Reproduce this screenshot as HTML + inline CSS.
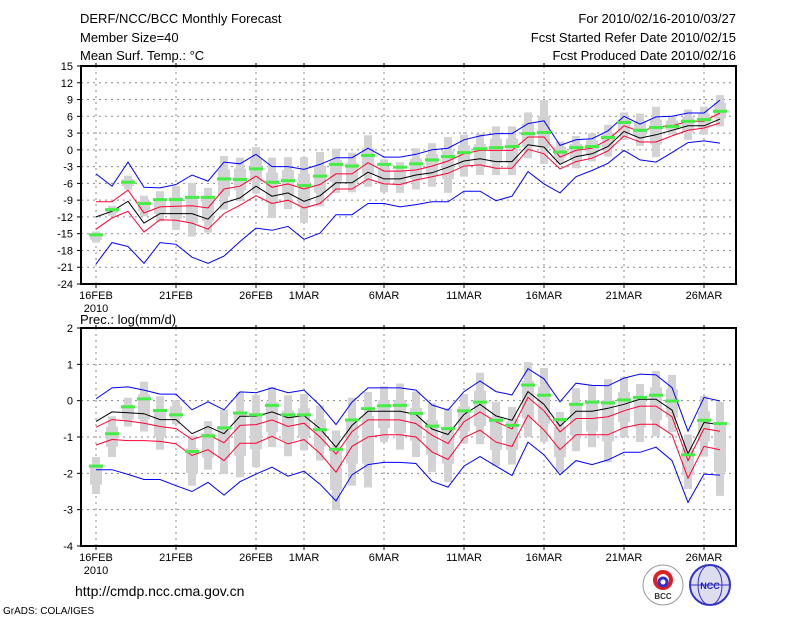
<!DOCTYPE html>
<html><head><meta charset="utf-8"><style>
body{margin:0;background:#fff;width:800px;height:618px;overflow:hidden}
svg{display:block;font-family:"Liberation Sans",sans-serif}
</style></head><body>
<svg id="c" width="800" height="618" viewBox="0 0 800 618">
<text x="80" y="23" font-size="13">DERF/NCC/BCC Monthly Forecast</text>
<text x="80" y="42" font-size="13">Member Size=40</text>
<text x="80" y="60" font-size="13">Mean Surf. Temp.: °C</text>
<text x="736" y="23" font-size="13" text-anchor="end">For 2010/02/16-2010/03/27</text>
<text x="736" y="42" font-size="13" text-anchor="end">Fcst Started Refer Date 2010/02/15</text>
<text x="736" y="60" font-size="13" text-anchor="end">Fcst Produced Date 2010/02/16</text>
<text x="80" y="324" font-size="13">Prec.: log(mm/d)</text>
<text x="75" y="596" font-size="14">http://cmdp.ncc.cma.gov.cn</text>
<text x="3" y="614" font-size="10">GrADS: COLA/IGES</text>
<g><circle cx="663" cy="585" r="20" fill="#fff" stroke="#999"/><circle cx="663" cy="580" r="8" fill="none" stroke="#d22" stroke-width="4"/><circle cx="663" cy="582" r="4" fill="none" stroke="#33c" stroke-width="3"/><text x="663" y="599" font-size="8" font-weight="bold" text-anchor="middle" fill="#333">BCC</text></g>
<g><circle cx="710" cy="585" r="20" fill="#dde" stroke="#33c" stroke-width="2"/><ellipse cx="710" cy="585" rx="12" ry="20" fill="none" stroke="#33c"/><line x1="690" y1="585" x2="730" y2="585" stroke="#33c"/><text x="710" y="589" font-size="9" font-weight="bold" text-anchor="middle" fill="#22b">NCC</text></g>
</svg>
<script>
// ---- data (day index 0 = 16 Feb 2010) ----
const dateLabels = ["16FEB","21FEB","26FEB","1MAR","6MAR","11MAR","16MAR","21MAR","26MAR"];
const dateLabelDays = [0,5,10,13,18,23,28,33,38];
const tTicks = [15,12,9,6,3,0,-3,-6,-9,-12,-15,-18,-21,-24];
const pTicks = [2,1,0,-1,-2,-3,-4];
const tMax = [-4.3,-6.5,-2.2,-6.7,-6.8,-6.2,-4.5,-5.6,-2.2,-2.5,-0.8,-3,-3,-3.5,-2.6,-1.4,-1.4,0.3,-1.3,-1.3,-0.8,0,0.3,1.8,2.5,2.9,2.9,4.7,5.2,0.8,1.8,2,3.4,6,4.6,5.9,6,6.6,6.6,8.9];
const tUp = [-9.3,-9.3,-7.2,-11.3,-10.2,-10.1,-10,-10.4,-7,-6.5,-4.7,-6.7,-6.1,-7,-6.2,-4.3,-4.3,-2.3,-3.8,-3.8,-3.6,-2.9,-2,-0.7,-0.1,-0.1,-0.1,2.3,2.3,-1.3,-0.1,0.3,1.8,4.3,3.3,4.1,4.3,5.1,5.1,6.6];
const tMean = [-12,-11,-9.2,-13.1,-11.4,-11.4,-11.4,-12.4,-9.5,-8.6,-6.5,-8.3,-7.7,-9.2,-8.2,-5.9,-5.9,-4,-5.2,-5.2,-4.5,-4.1,-3.1,-2,-1.6,-2.1,-2.1,0.9,0.5,-2.6,-1.2,-0.7,0.6,3.3,2.1,2.7,3.5,4.3,4.3,5.5];
const tLo = [-14.2,-12.2,-11,-14.7,-12.5,-12.6,-13.1,-14.2,-11.4,-9.9,-8.2,-9.6,-9,-10.4,-9.6,-7,-7,-5.2,-6.1,-6.2,-5.4,-4.8,-4.2,-2.9,-2.7,-3.3,-3.3,0.1,-0.7,-3.4,-2.1,-1.5,-0.2,2.5,1.4,1.4,2.5,3.5,3.9,4.8];
const tMin = [-20.4,-16.6,-17.3,-20.3,-16.6,-16.9,-19.2,-20.3,-19,-16.4,-14,-14.4,-13.7,-16,-14.9,-11.6,-11.6,-9.6,-9.6,-10.2,-9.8,-9.3,-9.3,-7.4,-7.4,-9.1,-8.3,-3.9,-6.1,-7.7,-4.8,-3.7,-2.4,-0.1,-1.8,-2.2,-0.5,1.3,1.6,1.2];
const tObs = [-15.2,-10.7,-5.8,-9.6,-8.9,-8.9,-8.5,-8.5,-5.2,-5.3,-3.4,-5.8,-5.5,-6.4,-4.7,-2.6,-2.9,-1,-2.6,-3.1,-2.5,-1.8,-1.2,-0.5,0.2,0.4,0.6,2.9,3.1,-0.4,0.4,0.6,2.2,4.9,3.5,4,4.2,5.1,5.4,6.9];
const tBoxHi = [-14.6,-10,-4.6,-8.2,-7.4,-6.5,-5.9,-6.8,-1.1,-1.4,0.5,-1.4,-1.3,-1.3,-0.4,0.2,-0.5,2.6,-1.7,-2.2,0.3,1.2,2.3,2.7,2.9,4.2,4.2,6.7,8.9,1.5,2.5,3,4.5,6.7,6.5,7.7,6.1,7.2,7.7,9.8];
const tBoxLo = [-16.6,-11.8,-7.1,-11.9,-12.8,-14.3,-15.5,-14.8,-10.7,-9.2,-7.8,-12.2,-10.6,-13.1,-10.1,-7.7,-7.6,-6.6,-7.6,-7.7,-7.1,-6.6,-7.7,-4.8,-4.5,-4.5,-4.5,-1.5,-2.5,-2.4,-3.3,-2.1,-1.2,1.8,0.7,-1.3,2.7,1.8,2.7,4.2];
const pMax = [0.05,0.35,0.38,0.29,0.18,0.18,-0.25,-0.03,-0.25,0.24,0.22,0.35,0.22,0.29,-0.13,-0.66,-0.04,0.35,0.35,0.35,0.29,-0.12,-0.26,0.25,0.54,0.25,0.16,0.88,0.6,-0.03,0.48,0.42,0.41,0.62,0.73,0.71,0.36,-0.84,0.09,-0.01];
const pUp = [-0.73,-0.52,-0.56,-0.62,-0.71,-0.77,-1.07,-0.93,-1.16,-0.68,-0.66,-0.53,-0.71,-0.62,-1,-1.47,-0.85,-0.53,-0.53,-0.53,-0.63,-0.95,-1.18,-0.58,-0.31,-0.58,-0.78,0.09,-0.28,-0.86,-0.49,-0.49,-0.44,-0.28,-0.15,-0.15,-0.44,-1.65,-0.77,-0.84];
const pMean = [-0.57,-0.31,-0.33,-0.36,-0.52,-0.52,-0.91,-0.71,-0.91,-0.43,-0.43,-0.31,-0.47,-0.41,-0.77,-1.28,-0.68,-0.29,-0.29,-0.29,-0.38,-0.78,-0.93,-0.38,-0.1,-0.42,-0.54,0.25,-0.1,-0.7,-0.29,-0.29,-0.21,-0.1,0.04,0.04,-0.26,-1.46,-0.6,-0.66];
const pLo = [-1.22,-1.07,-1.1,-1.1,-1.12,-1.19,-1.51,-1.35,-1.65,-1.17,-1.17,-0.98,-1.19,-1.07,-1.45,-1.97,-1.26,-1,-0.94,-0.94,-1,-1.41,-1.62,-1.02,-0.81,-1.14,-1.26,-0.4,-0.81,-1.35,-0.94,-0.94,-0.94,-0.74,-0.65,-0.65,-0.94,-2.13,-1.26,-1.35];
const pMin = [-1.9,-1.9,-2.03,-2.17,-2.17,-2.34,-2.5,-2.25,-2.6,-2.23,-2.02,-1.83,-2.08,-1.94,-2.3,-2.76,-2.04,-1.76,-1.7,-1.7,-1.73,-2.22,-2.38,-1.8,-1.54,-1.8,-2.06,-1.14,-1.49,-2.04,-1.65,-1.76,-1.63,-1.42,-1.42,-1.28,-1.65,-2.8,-2.02,-2.05];
const pObs = [-1.8,-0.91,-0.17,0.05,-0.27,-0.39,-1.4,-0.97,-0.75,-0.34,-0.39,-0.13,-0.39,-0.39,-0.8,-1.34,-0.53,-0.22,-0.14,-0.13,-0.35,-0.7,-0.77,-0.28,-0.04,-0.54,-0.68,0.43,0.15,-0.52,-0.1,-0.04,-0.06,0.02,0.09,0.15,-0.01,-1.49,-0.54,-0.63];
const pBoxHi = [-1.55,-0.43,0.08,0.52,0.12,0.01,-0.96,-0.56,-0.25,0.24,0.15,0.38,0.15,0.18,-0.13,-0.82,0.08,0.24,0.4,0.47,0.25,-0.07,-0.21,0.18,0.77,-0.03,-0.17,1.06,0.9,-0.31,0.34,0.43,0.59,0.65,0.46,0.82,0.71,-0.93,0.13,-0.03];
const pBoxLo = [-2.57,-1.55,-0.71,-0.85,-1.35,-0.65,-2.34,-1.9,-2.02,-2.11,-1.83,-1.28,-1.53,-1.37,-1.65,-3.01,-2.34,-2.39,-1.14,-1.35,-1.55,-1.96,-2.24,-1.18,-1.2,-1.8,-1.76,-1,-1.14,-1.97,-1.39,-1.28,-1.69,-1,-1.14,-0.98,-0.86,-2.43,-1.54,-2.62];

const svg = document.getElementById('c');
const NS = 'http://www.w3.org/2000/svg';
function mk(tag, attrs, parent){
  const e = document.createElementNS(NS, tag);
  for (const k in attrs) e.setAttribute(k, attrs[k]);
  (parent||svg).appendChild(e);
  return e;
}
const X0 = 81, X1 = 736;
function xDay(d){ return 96 + 16*d; }

function panel(name, top, bot, vmax, vmin, ticks, mx, up, mean, lo, mn, obs, bhi, blo){
  const y = v => top + (vmax - v) * (bot - top) / (vmax - vmin);
  const g = mk('g', {});
  
  
  // grid
  ticks.forEach(t => {
    if (t===vmax || t===vmin) return;
    const l = mk('line', {x1:X0, x2:X1, y1:y(t), y2:y(t), stroke:'#888', 'stroke-dasharray':'2,4', 'stroke-width':1}, g);
    
    
  });
  dateLabelDays.forEach(d => {
    const l = mk('line', {x1:xDay(d), x2:xDay(d), y1:top, y2:bot, stroke:'#888', 'stroke-dasharray':'2,4', 'stroke-width':1}, g);
    
    
  });
  // boxes
  for (let i=0;i<mx.length;i++){
    const x = xDay(i);
    const r1 = mk('rect', {x:x-4, y:y(bhi[i]), width:8, height:Math.max(1,y(blo[i])-y(bhi[i])), fill:'#d3d3d6'}, g);
    
    
    const q = (bhi[i]-blo[i])*0.25;
    const r2 = mk('rect', {x:x-6, y:y(bhi[i]-q), width:12, height:Math.max(1,y(blo[i]+q)-y(bhi[i]-q)), fill:'#d3d3d6'}, g);
    
    
  }
  const series = [[mx,'#0000ff','max-line'],[mn,'#0000ff','min-line'],[up,'#ff0033','upper-line'],[lo,'#ff0033','lower-line'],[mean,'#000000','mean-line']];
  series.forEach(s => {
    const pts = s[0].map((v,i)=> xDay(i)+','+y(v).toFixed(1)).join(' ');
    const p = mk('polyline', {points:pts, fill:'none', stroke:s[1], 'stroke-width':1}, g);
    
    
  });
  for (let i=0;i<obs.length;i++){
    const r = mk('rect', {x:xDay(i)-7, y:y(obs[i])-1.5, width:14, height:3, fill:'#44ee44'}, g);
    
    
  }
  // frame
  const fr = mk('rect', {x:X0, y:top, width:X1-X0, height:bot-top, fill:'none', stroke:'#000', 'stroke-width':2}, g);
  
  
  ticks.forEach(t => {
    mk('line', {x1:X0-4, x2:X0, y1:y(t), y2:y(t), stroke:'#000'}, g);
    const tx = mk('text', {x:73, y:y(t)+4, 'font-size':11, 'text-anchor':'end'}, g);
    tx.textContent = String(t);
    
    
  });
  dateLabelDays.forEach((d,k) => {
    mk('line', {x1:xDay(d), x2:xDay(d), y1:bot, y2:bot+4, stroke:'#000'}, g);
    mk('line', {x1:xDay(d), x2:xDay(d), y1:top, y2:top-3, stroke:'#000'}, g);
    const tx = mk('text', {x:xDay(d), y:bot+15, 'font-size':11, 'text-anchor':'middle'}, g);
    tx.textContent = dateLabels[k];
    
    
  });
  const yr = mk('text', {x:96, y:bot+28, 'font-size':11, 'text-anchor':'middle'}, g);
  yr.textContent = '2010';
  
  
}
panel('temperature-panel', 66, 284, 15, -24, tTicks, tMax, tUp, tMean, tLo, tMin, tObs, tBoxHi, tBoxLo);
panel('precipitation-panel', 328, 546, 2, -4, pTicks, pMax, pUp, pMean, pLo, pMin, pObs, pBoxHi, pBoxLo);
</script>
</body></html>
